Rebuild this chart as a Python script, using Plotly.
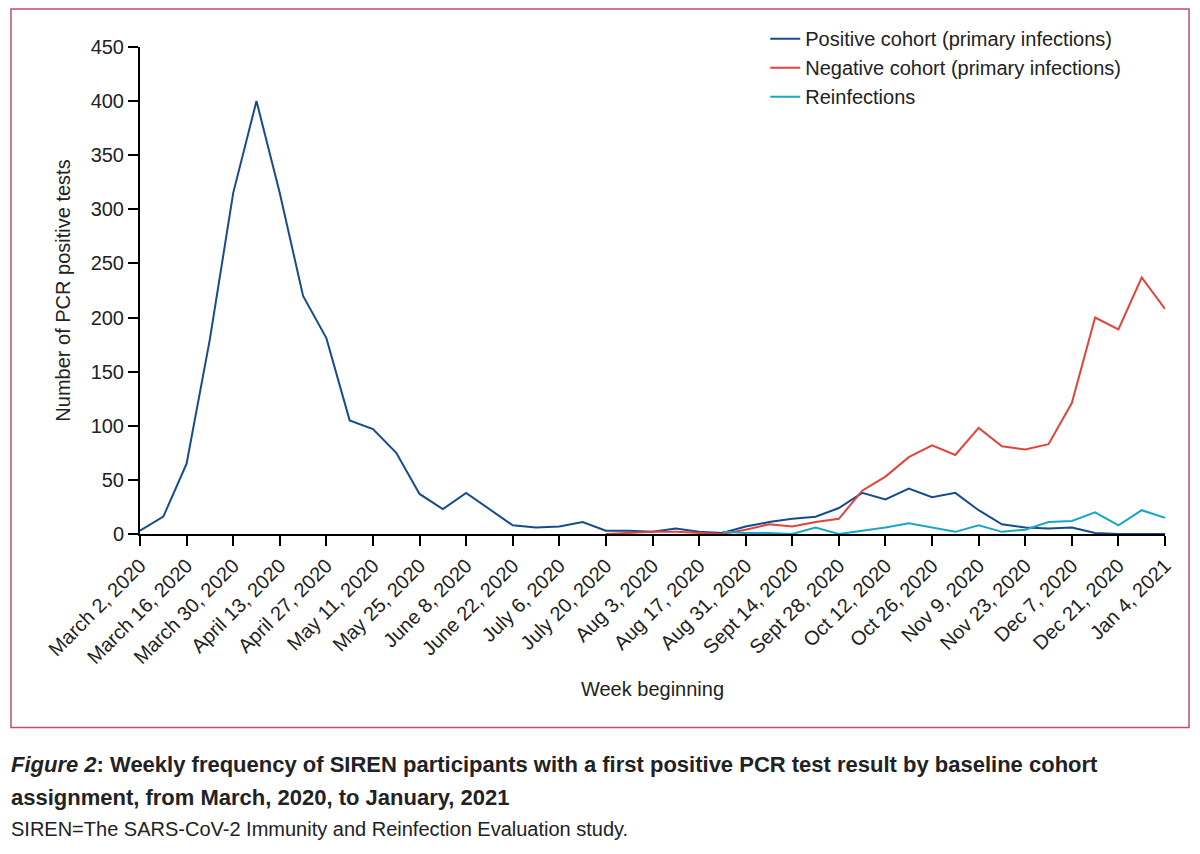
import plotly.graph_objects as go

weeks = list(range(45))
tick_labels = ["March 2, 2020", "March 16, 2020", "March 30, 2020", "April 13, 2020", "April 27, 2020",
               "May 11, 2020", "May 25, 2020", "June 8, 2020", "June 22, 2020", "July 6, 2020",
               "July 20, 2020", "Aug 3, 2020", "Aug 17, 2020", "Aug 31, 2020", "Sept 14, 2020",
               "Sept 28, 2020", "Oct 12, 2020", "Oct 26, 2020", "Nov 9, 2020", "Nov 23, 2020",
               "Dec 7, 2020", "Dec 21, 2020", "Jan 4, 2021"]

positive = [3, 16, 65, 180, 315, 400, 315, 220, 181, 105, 97, 75, 37, 23, 38, 23, 8, 6, 7, 11,
            3, 3, 2, 5, 2, 1, 7, 11, 14, 16, 24, 38, 32, 42, 34, 38, 22, 9, 6, 5, 6, 1, 0, 0, 0]
neg_weeks = list(range(20, 45))
negative = [0, 1, 2, 2, 1, 0, 4, 9, 7, 11, 14, 40, 53, 71, 82, 73, 98, 81, 78, 83, 121, 200, 189, 237, 208]
re_weeks = list(range(25, 45))
reinf = [2, 1, 1, 0, 6, 0, 3, 6, 10, 6, 2, 8, 2, 4, 11, 12, 20, 8, 22, 15]

font = "Liberation Sans"
fig = go.Figure()
fig.add_trace(go.Scatter(x=weeks, y=positive, mode="lines", name="Positive cohort (primary infections)",
                         line=dict(color="#164c8c", width=2)))
fig.add_trace(go.Scatter(x=neg_weeks, y=negative, mode="lines", name="Negative cohort (primary infections)",
                         line=dict(color="#e0443a", width=2)))
fig.add_trace(go.Scatter(x=re_weeks, y=reinf, mode="lines", name="Reinfections",
                         line=dict(color="#1aa6c8", width=2)))

fig.update_layout(
    width=1200, height=854,
    margin=dict(l=132, r=43, t=38, b=328),
    plot_bgcolor="white", paper_bgcolor="white",
    font=dict(family=font, size=20, color="#222"),
    showlegend=True,
    legend=dict(x=0.61, y=1.055, xanchor="left", yanchor="top", bgcolor="rgba(0,0,0,0)",
                font=dict(size=20), tracegroupgap=0),
    xaxis=dict(range=[0, 44], tickvals=list(range(0, 45, 2)), ticktext=tick_labels,
               tickangle=-45, showgrid=False, zeroline=False, showline=True, linecolor="black",
               linewidth=2, ticks="outside", ticklen=10, tickwidth=2, tickcolor="black",
               title=dict(text="Week beginning", font=dict(size=20))),
    yaxis=dict(range=[0, 450], dtick=50, showgrid=False, zeroline=False, showline=True,
               linecolor="black", linewidth=2, ticks="outside", ticklen=10, tickwidth=2,
               tickcolor="black", title=dict(text="Number of PCR positive tests", font=dict(size=20))),
)

fig.add_shape(type="rect", xref="paper", yref="paper", x0=(10 - 139) / 1025, x1=(1188 - 139) / 1025,
              y0=(534 - 728) / 488, y1=(534 - 8) / 488, line=dict(color="#c0506a", width=1.5))

fig.add_annotation(xref="paper", yref="paper", x=(8 - 139) / 1025, y=(534 - 765) / 488,
                   xanchor="left", yanchor="middle", showarrow=False, align="left",
                   text="<b><i>Figure 2</i>: Weekly frequency of SIREN participants with a first positive PCR test result by baseline cohort</b>",
                   font=dict(size=22, color="#222"))
fig.add_annotation(xref="paper", yref="paper", x=(8 - 139) / 1025, y=(534 - 798) / 488,
                   xanchor="left", yanchor="middle", showarrow=False,
                   text="<b>assignment, from March, 2020, to January, 2021</b>",
                   font=dict(size=22, color="#222"))
fig.add_annotation(xref="paper", yref="paper", x=(8 - 139) / 1025, y=(534 - 830) / 488,
                   xanchor="left", yanchor="middle", showarrow=False,
                   text="SIREN=The SARS-CoV-2 Immunity and Reinfection Evaluation study.",
                   font=dict(size=20, color="#222"))

fig.write_html("out.html")
